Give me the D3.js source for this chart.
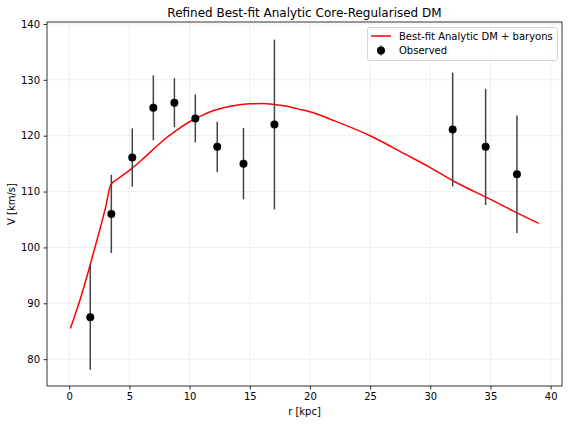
<!DOCTYPE html>
<html><head><meta charset="utf-8">
<script src="https://cdn.jsdelivr.net/npm/d3@7"></script>
<style>body{margin:0;background:#fff;} text{font-family:"DejaVu Sans",sans-serif;}</style>
</head><body><svg id="c" width="568" height="424"></svg>
<script>
const obsR = [1.75, 3.5, 5.24, 6.99, 8.74, 10.48, 12.3, 14.48, 17.05, 31.86, 34.6, 37.2];
const obsV = [87.5, 106.0, 116.1, 125.0, 125.9, 123.1, 118.0, 115.0, 122.0, 121.1, 118.0, 113.1];
const obsErr = [9.4, 7.0, 5.2, 5.8, 4.4, 4.3, 4.5, 6.4, 15.2, 10.2, 10.4, 10.5];
const modelR = [0.1, 1, 2, 3, 3.47, 4, 5, 6, 7, 8, 9, 10, 11, 12, 13, 14, 15, 16, 17, 18, 19, 20, 22, 25, 28, 30, 32, 35, 37, 39];
const modelV = [85.5, 91.3, 98.9, 107.0, 111.3, 112.2, 113.8, 115.6, 117.6, 119.5, 121.1, 122.5, 123.6, 124.5, 125.1, 125.5, 125.7, 125.75, 125.6, 125.3, 124.8, 124.3, 122.7, 120.0, 116.6, 114.3, 111.8, 108.6, 106.4, 104.3];
const xTicks = [0, 5, 10, 15, 20, 25, 30, 35, 40];
const yTicks = [80, 90, 100, 110, 120, 130, 140];
const titleText = "Refined Best-fit Analytic Core-Regularised DM";

const svg = d3.select("#c");
const L = 47, R = 562, T = 22, B = 386;
const x = d3.scaleLinear().domain([-1.845, 40.945]).range([L, R]);
const y = d3.scaleLinear().domain([75.2, 140.35]).range([B, T]);

// grid
const g = svg.append("g");
g.selectAll(".gx").data(xTicks).enter().append("line")
  .attr("x1", d => x(d)).attr("x2", d => x(d)).attr("y1", T).attr("y2", B)
  .attr("stroke", "#ebebeb").attr("stroke-width", 0.8);
g.selectAll(".gy").data(yTicks).enter().append("line")
  .attr("y1", d => y(d)).attr("y2", d => y(d)).attr("x1", L).attr("x2", R)
  .attr("stroke", "#ebebeb").attr("stroke-width", 0.8);

// model line
const line = d3.line().x((d, i) => x(modelR[i])).y((d, i) => y(modelV[i])).curve(d3.curveMonotoneX);
svg.append("path").datum(modelV).attr("d", line).attr("fill", "none")
  .attr("stroke", "#ff0000").attr("stroke-width", 1.5);

// error bars
const pts = obsR.map((r, i) => ({r, v: obsV[i], e: obsErr[i]}));
svg.selectAll(".eb").data(pts).enter().append("line")
  .attr("x1", d => x(d.r)).attr("x2", d => x(d.r))
  .attr("y1", d => y(d.v - d.e)).attr("y2", d => y(d.v + d.e))
  .attr("stroke", "#444444").attr("stroke-width", 1.5);
svg.selectAll(".pt").data(pts).enter().append("circle")
  .attr("cx", d => x(d.r)).attr("cy", d => y(d.v)).attr("r", 4).attr("fill", "#000");

// axes
const xAxis = d3.axisBottom(x).tickValues(xTicks).tickSize(3.5).tickPadding(3.5);
const yAxis = d3.axisLeft(y).tickValues(yTicks).tickSize(3.5).tickPadding(3.5);
const gx = svg.append("g").attr("transform", `translate(0,${B})`).call(xAxis);
const gy = svg.append("g").attr("transform", `translate(${L},0)`).call(yAxis);
[gx, gy].forEach(a => {
  a.select(".domain").remove();
  a.selectAll("text").attr("font-size", 10).attr("fill", "#000").attr("font-family", "DejaVu Sans");
  a.selectAll("line").attr("stroke", "#000").attr("stroke-width", 0.8);
});
svg.append("rect").attr("x", L).attr("y", T).attr("width", R - L).attr("height", B - T)
  .attr("fill", "none").attr("stroke", "#000").attr("stroke-width", 0.8);

// labels
svg.append("text").attr("x", (L + R) / 2).attr("y", 17).attr("text-anchor", "middle")
  .attr("font-size", 12).text(titleText);
svg.append("text").attr("x", (L + R) / 2).attr("y", 415).attr("text-anchor", "middle")
  .attr("font-size", 10).text("r [kpc]");
svg.append("text").attr("transform", `translate(15,${(T + B) / 2}) rotate(-90)`).attr("text-anchor", "middle")
  .attr("font-size", 10).text("V [km/s]");

// legend
const lg = svg.append("g");
lg.append("rect").attr("x", 367.5).attr("y", 27.5).attr("width", 190).attr("height", 33).attr("rx", 2)
  .attr("fill", "#fff").attr("fill-opacity", 0.8).attr("stroke", "#cccccc").attr("stroke-width", 0.8);
lg.append("line").attr("x1", 371).attr("x2", 391).attr("y1", 36).attr("y2", 36)
  .attr("stroke", "#ff0000").attr("stroke-width", 1.5);
lg.append("text").attr("x", 399).attr("y", 39.5).attr("font-size", 10).text("Best-fit Analytic DM + baryons");
lg.append("line").attr("x1", 381).attr("x2", 381).attr("y1", 45.5).attr("y2", 55.5)
  .attr("stroke", "#444444").attr("stroke-width", 1.5);
lg.append("circle").attr("cx", 381).attr("cy", 50.5).attr("r", 4).attr("fill", "#000");
lg.append("text").attr("x", 399).attr("y", 54).attr("font-size", 10).text("Observed");
</script></body></html>
